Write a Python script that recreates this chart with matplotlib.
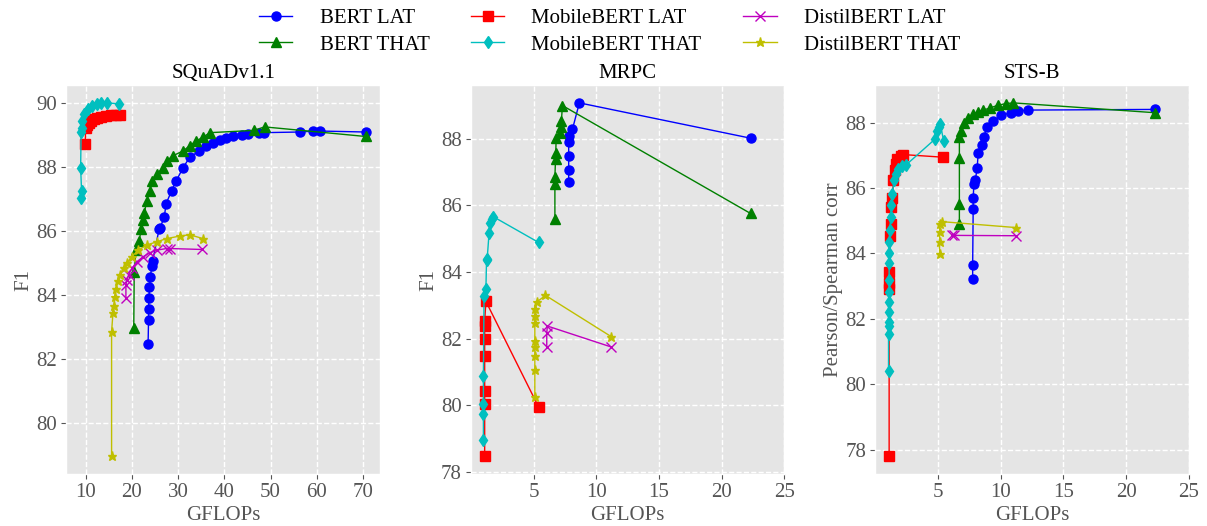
import matplotlib.pyplot as plt

plt.style.use('ggplot')
plt.rcParams['font.family'] = ['Liberation Serif', 'DejaVu Serif']

# ---- SQuADv1.1 ----
sq_bert_lat_x = [23.5, 23.6, 23.6, 23.7, 23.8, 24.0, 24.3, 24.5, 25.9, 26.1, 27.0, 27.4, 28.6, 29.6,
                 31.1, 32.5, 34.6, 36.1, 37.5, 39.0, 40.4, 41.8, 43.9, 45.2, 47.5, 48.6, 56.4, 59.3, 60.7, 70.6]
sq_bert_lat_y = [82.46, 83.23, 83.56, 83.9, 84.26, 84.57, 84.9, 85.06, 86.07, 86.1, 86.43, 86.85, 87.26, 87.57,
                 87.98, 88.3, 88.5, 88.66, 88.76, 88.83, 88.9, 88.97, 89.0, 89.02, 89.07, 89.07, 89.09, 89.12, 89.12, 89.09]
sq_bert_that_x = [20.4, 20.5, 20.9, 21.6, 22.0, 22.4, 22.7, 23.2, 23.9, 24.3, 25.4, 26.8, 27.5, 28.9,
                  31.1, 32.5, 33.9, 35.3, 36.9, 46.4, 48.7, 70.6]
sq_bert_that_y = [82.97, 84.73, 85.4, 85.7, 86.07, 86.33, 86.56, 86.95, 87.26, 87.57, 87.78, 87.98, 88.19, 88.35,
                  88.5, 88.66, 88.81, 88.92, 89.07, 89.14, 89.25, 88.95]
sq_mobile_lat_x = [9.9, 10.0, 10.3, 10.7, 11.2, 11.8, 12.5, 13.2, 14.3, 15.4, 16.5, 17.5]
sq_mobile_lat_y = [88.71, 89.22, 89.3, 89.38, 89.44, 89.49, 89.53, 89.56, 89.6, 89.62, 89.62, 89.61]
sq_mobile_that_x = [8.9, 9.1, 8.9, 9.0, 9.1, 9.3, 9.6, 10.4, 11.4, 12.5, 13.2, 14.6, 17.3]
sq_mobile_that_y = [87.04, 87.26, 87.97, 89.1, 89.22, 89.43, 89.64, 89.8, 89.9, 89.97, 90.0, 90.0, 89.97]
sq_distil_lat_x = [18.7, 18.7, 18.9, 19.3, 20.0, 21.1, 22.5, 23.9, 25.4, 27.5, 28.2, 35.2]
sq_distil_lat_y = [83.9, 84.3, 84.47, 84.63, 84.83, 85.04, 85.2, 85.32, 85.4, 85.45, 85.45, 85.42]
sq_distil_that_x = [15.6, 15.6, 15.9, 16.1, 16.3, 16.6, 16.9, 17.5, 18.2, 18.9, 20.0, 21.4, 23.2, 25.4,
                    27.5, 30.4, 32.5, 35.4]
sq_distil_that_y = [78.96, 82.85, 83.44, 83.64, 83.95, 84.2, 84.42, 84.63, 84.83, 84.99, 85.2, 85.4, 85.56, 85.66,
                    85.76, 85.84, 85.88, 85.76]

# ---- MRPC ----
mr_bert_lat_x = [7.8, 7.8, 7.8, 7.8, 7.85, 8.1, 8.65, 22.3]
mr_bert_lat_y = [86.7, 87.07, 87.5, 87.9, 88.1, 88.29, 89.08, 88.02]
mr_bert_that_x = [6.7, 6.7, 6.7, 6.75, 6.77, 6.8, 7.1, 7.17, 7.22, 7.3, 22.3]
mr_bert_that_y = [85.58, 86.63, 86.85, 87.4, 87.57, 88.04, 88.19, 88.36, 88.54, 89.0, 85.76]
mr_mobile_lat_x = [1.1, 1.1, 1.1, 1.1, 1.1, 1.1, 1.1, 1.2, 5.4]
mr_mobile_lat_y = [78.47, 80.04, 80.42, 81.48, 82.0, 82.38, 82.53, 83.12, 79.95]
mr_mobile_that_x = [1.0, 1.0, 1.0, 1.0, 1.05, 1.2, 1.25, 1.3, 1.45, 1.55, 1.7, 1.8, 5.4]
mr_mobile_that_y = [78.95, 79.75, 80.04, 80.89, 83.29, 83.49, 84.37, 84.4, 85.16, 85.46, 85.58, 85.66, 84.89]
mr_distil_lat_x = [6.05, 6.05, 6.1, 11.2]
mr_distil_lat_y = [81.76, 82.16, 82.38, 81.75]
mr_distil_that_x = [5.1, 5.1, 5.1, 5.1, 5.1, 5.1, 5.1, 5.15, 5.25, 5.95, 11.2]
mr_distil_that_y = [80.24, 81.07, 81.49, 81.76, 81.93, 82.48, 82.68, 82.9, 83.1, 83.3, 82.06]

# ---- STS-B ----
st_bert_lat_x = [7.76, 7.76, 7.8, 7.8, 7.86, 7.97, 8.12, 8.2, 8.47, 8.65, 8.9, 9.39, 10.05, 10.8,
                 11.36, 12.15, 22.28]
st_bert_lat_y = [83.22, 83.66, 85.35, 85.68, 86.13, 86.23, 86.62, 87.06, 87.3, 87.57, 87.85, 88.05, 88.22, 88.3,
                 88.35, 88.38, 88.4]
st_bert_that_x = [6.7, 6.7, 6.7, 6.7, 6.81, 7.07, 7.4, 7.8, 8.2, 8.6, 9.12, 9.78, 10.44, 11.0, 22.28]
st_bert_that_y = [84.9, 85.5, 86.92, 87.55, 87.75, 88.0, 88.15, 88.25, 88.33, 88.38, 88.44, 88.53, 88.58, 88.6, 88.3]
st_mobile_lat_x = [1.1, 1.1, 1.1, 1.1, 1.18, 1.23, 1.28, 1.36, 1.44, 1.55, 1.63, 1.76, 2.02, 2.23, 5.39]
st_mobile_lat_y = [77.8, 82.9, 83.1, 83.42, 84.52, 84.9, 85.42, 85.68, 86.23, 86.54, 86.74, 86.89, 86.99, 87.02, 86.94]
st_mobile_that_x = [1.05, 1.05, 1.05, 1.05, 1.05, 1.05, 1.1, 1.1, 1.1, 1.1, 1.1, 1.15, 1.23, 1.28, 1.36,
                    1.49, 1.63, 1.81, 2.15, 2.41, 4.78, 4.92, 5.05, 5.18, 5.44]
st_mobile_that_y = [80.42, 81.54, 81.77, 81.9, 82.2, 82.52, 82.82, 83.2, 83.71, 84.0, 84.36, 84.72, 85.12, 85.48,
                    85.83, 86.23, 86.44, 86.59, 86.66, 86.69, 87.5, 87.75, 87.85, 87.95, 87.45]
st_distil_lat_x = [6.1, 6.3, 11.18]
st_distil_lat_y = [84.57, 84.55, 84.54]
st_distil_that_x = [5.12, 5.12, 5.12, 5.12, 5.31, 11.18]
st_distil_that_y = [83.99, 84.36, 84.64, 84.9, 84.97, 84.79]

titles = ['SQuADv1.1', 'MRPC', 'STS-B']
ylabels = ['F1', 'F1', 'Pearson/Spearman corr']
labels = ['BERT LAT', 'BERT THAT', 'MobileBERT LAT', 'MobileBERT THAT', 'DistilBERT LAT', 'DistilBERT THAT']
styles = ['bo-', 'g^-', 'rs-', 'cd-', 'mx-', 'y*-']

panels = [
    [(sq_bert_lat_x, sq_bert_lat_y), (sq_bert_that_x, sq_bert_that_y), (sq_mobile_lat_x, sq_mobile_lat_y),
     (sq_mobile_that_x, sq_mobile_that_y), (sq_distil_lat_x, sq_distil_lat_y), (sq_distil_that_x, sq_distil_that_y)],
    [(mr_bert_lat_x, mr_bert_lat_y), (mr_bert_that_x, mr_bert_that_y), (mr_mobile_lat_x, mr_mobile_lat_y),
     (mr_mobile_that_x, mr_mobile_that_y), (mr_distil_lat_x, mr_distil_lat_y), (mr_distil_that_x, mr_distil_that_y)],
    [(st_bert_lat_x, st_bert_lat_y), (st_bert_that_x, st_bert_that_y), (st_mobile_lat_x, st_mobile_lat_y),
     (st_mobile_that_x, st_mobile_that_y), (st_distil_lat_x, st_distil_lat_y), (st_distil_that_x, st_distil_that_y)],
]

fig, axes = plt.subplots(1, 3, figsize=(12.07, 5.26), dpi=100)
plt.subplots_adjust(left=0.055, right=0.985, top=0.838, bottom=0.099, wspace=0.29)

for i, ax in enumerate(axes):
    for (x, y), st, lab in zip(panels[i], styles, labels):
        ax.plot(x, y, st, label=lab, linewidth=1, markersize=6.5)
    ax.set_title(titles[i], fontsize=15, color='black', pad=5)
    ax.set_xlabel('GFLOPs', fontsize=15, labelpad=3)
    ax.set_ylabel(ylabels[i], fontsize=15, labelpad=2)
    ax.grid(True, color='white', linestyle='--', linewidth=1)
    ax.tick_params(labelsize=15, pad=3)
    if i > 0:
        ax.set_xlim(0, 25)
        ax.set_xticks([5, 10, 15, 20, 25])

axes[0].set_xticks([10, 20, 30, 40, 50, 60, 70])
axes[0].set_yticks([80, 82, 84, 86, 88, 90])
axes[1].set_yticks([78, 80, 82, 84, 86, 88])
axes[2].set_yticks([78, 80, 82, 84, 86, 88])

handles, labs = axes[0].get_legend_handles_labels()
fig.legend(handles, labs, loc='upper center', ncol=3, frameon=False, fontsize=15,
           bbox_to_anchor=(0.505, 1.02), columnspacing=2.0, handlelength=1.6,
           handletextpad=1.3, labelspacing=0.35)

plt.savefig('out.png')
